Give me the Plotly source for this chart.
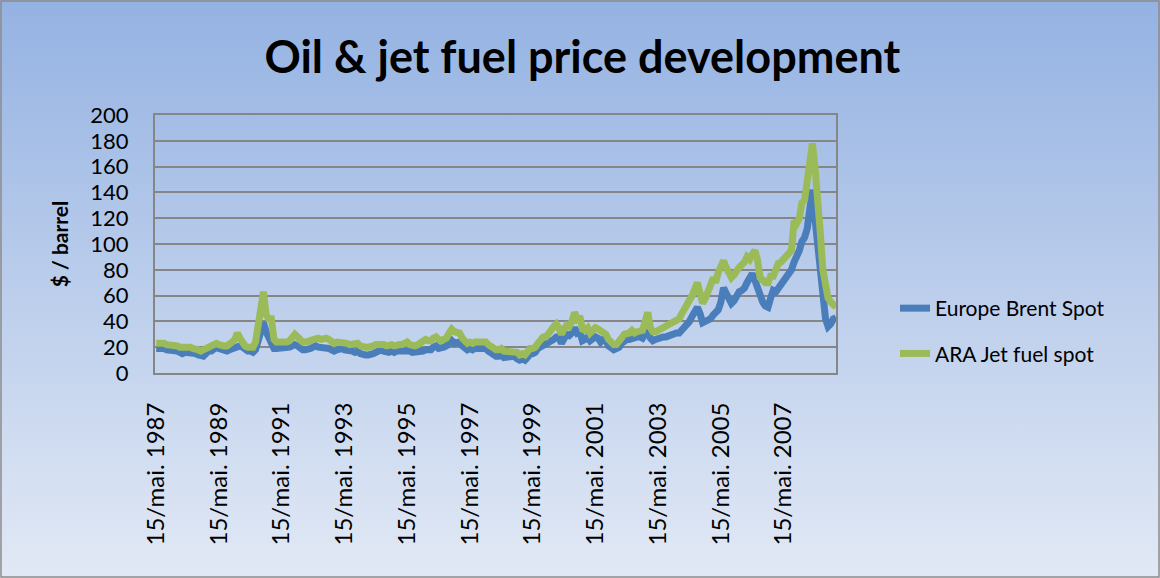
import base64
import pandas as pd
import plotly.graph_objs as go

# monthly values, May 1987 - Jan 2009 ($ / barrel)
brent = (
    [19, 19, 20, 19, 18, 18, 18, 17]                          # 1987
    + [17, 16, 15, 16, 16, 16, 15, 15, 14, 13, 13, 15]        # 1988
    + [17, 17, 19, 20, 19, 18, 18, 17, 18, 19, 19, 21]        # 1989
    + [21, 20, 18, 17, 17, 16, 18, 27, 35, 39, 32, 27]        # 1990
    + [24, 19, 19, 19, 19, 19, 19, 20, 21, 22, 21, 19]        # 1991
    + [18, 18, 18, 19, 20, 21, 20, 20, 20, 20, 19, 18]        # 1992
    + [17, 18, 19, 19, 18, 18, 17, 17, 16, 17, 15, 14]        # 1993
    + [14, 14, 14, 15, 16, 17, 18, 17, 16, 16, 17, 16]        # 1994
    + [17, 17, 17, 18, 18, 17, 16, 16, 17, 17, 17, 18]        # 1995
    + [18, 18, 20, 21, 19, 19, 20, 21, 24, 25, 23, 24]        # 1996
    + [24, 21, 19, 18, 19, 18, 19, 19, 19, 20, 19, 17]        # 1997
    + [15, 14, 13, 13, 14, 12, 12, 12, 13, 13, 11, 10]        # 1998
    + [11, 10, 12, 15, 15, 16, 19, 20, 22, 22, 24, 25]        # 1999
    + [26, 28, 28, 23, 28, 30, 29, 31, 35, 31, 32, 25]        # 2000
    + [26, 28, 25, 26, 28, 27, 24, 26, 25, 21, 19, 18]        # 2001
    + [19, 20, 23, 25, 26, 26, 27, 27, 28, 28, 27, 30]        # 2002
    + [33, 27, 25, 26, 27, 28, 28, 28, 29, 30, 30, 31]        # 2003
    + [31, 33, 36, 38, 40, 44, 48, 51, 46, 39, 40, 41]        # 2004
    + [42, 45, 47, 49, 55, 66, 62, 58, 54, 56, 61, 63]        # 2005
    + [64, 66, 70, 74, 77, 72, 66, 59, 55, 52, 51, 58]        # 2006
    + [64, 63, 66, 68, 72, 74, 77, 80, 86, 90, 95, 102]       # 2007
    + [105, 112, 126, 142, 120, 100, 75, 55, 42, 36, 38, 42]  # 2008
    + [43]                                                    # 2009
)

jet_fuel = (
    [23, 23, 24, 23, 22, 22, 22, 21]                          # 1987
    + [21, 20, 20, 20, 21, 20, 19, 19, 18, 17, 18, 20]        # 1988
    + [21, 21, 22, 23, 22, 21, 21, 21, 22, 24, 26, 31]        # 1989
    + [27, 23, 21, 20, 20, 20, 24, 40, 58, 63, 45, 42]        # 1990
    + [42, 26, 24, 24, 23, 23, 24, 25, 27, 30, 28, 25]        # 1991
    + [24, 24, 24, 25, 26, 27, 27, 26, 27, 27, 26, 24]        # 1992
    + [23, 24, 24, 24, 24, 23, 22, 22, 22, 23, 21, 20]        # 1993
    + [20, 20, 20, 21, 22, 22, 23, 22, 21, 22, 22, 21]        # 1994
    + [22, 22, 22, 23, 24, 22, 21, 21, 22, 23, 24, 26]        # 1995
    + [25, 25, 27, 28, 26, 25, 26, 27, 31, 34, 32, 32]        # 1996
    + [31, 27, 25, 23, 24, 23, 24, 24, 24, 25, 24, 22]        # 1997
    + [20, 19, 18, 18, 19, 17, 17, 16, 17, 17, 16, 14]        # 1998
    + [15, 14, 17, 19, 19, 20, 23, 25, 28, 28, 32, 33]        # 1999
    + [36, 38, 35, 30, 34, 37, 36, 40, 47, 42, 44, 34]        # 2000
    + [33, 35, 31, 33, 35, 34, 33, 32, 30, 26, 23, 22]        # 2001
    + [22, 24, 27, 30, 30, 31, 33, 31, 32, 33, 33, 40]        # 2002
    + [47, 35, 32, 32, 33, 34, 35, 37, 38, 39, 40, 41]        # 2003
    + [42, 46, 49, 52, 55, 60, 65, 70, 62, 54, 58, 62]        # 2004
    + [68, 74, 70, 78, 82, 87, 82, 77, 74, 76, 80, 82]        # 2005
    + [84, 86, 90, 88, 92, 95, 88, 74, 72, 70, 70, 75]        # 2006
    + [75, 80, 85, 86, 88, 90, 93, 95, 118, 116, 120, 132]    # 2007
    + [134, 152, 170, 178, 160, 140, 110, 80, 66, 58, 55, 52]  # 2008
    + [51]                                                    # 2009
)

dates = pd.date_range("1987-05-01", periods=len(brent), freq="MS") + pd.Timedelta(days=14)

tick_dates = [f"{y}-05-15" for y in range(1987, 2009, 2)]
tick_labels = [f"15/mai. {y}" for y in range(1987, 2009, 2)]

font = "Lato, 'Open Sans', sans-serif"

# excel style blue gradient behind the chart
svg = ('<svg xmlns="http://www.w3.org/2000/svg" width="1160" height="578" preserveAspectRatio="none">'
       '<defs><linearGradient id="g" x1="0" y1="0" x2="0" y2="1">'
       '<stop offset="0" stop-color="#94b2e2"/><stop offset="1" stop-color="#e2e9f5"/>'
       '</linearGradient></defs><rect width="1160" height="578" fill="url(#g)"/></svg>')
bg = "data:image/svg+xml;base64," + base64.b64encode(svg.encode()).decode()

l, r, t, b = 155, 324, 115, 205
pw, ph = 1160 - l - r, 578 - t - b

data = [
    go.Scatter(x=dates, y=brent, mode="lines", name="Europe Brent Spot",
               line=dict(color="#4a7ebb", width=7), legendgroup="a"),
    go.Scatter(x=dates, y=jet_fuel, mode="lines", name="ARA Jet fuel spot",
               line=dict(color="#9bbb59", width=7), legendgroup="b"),
]

layout = go.Layout(
    width=1160, height=578,
    margin=dict(l=l, r=r, t=t, b=b),
    paper_bgcolor="#c4d4ee",
    plot_bgcolor="white",
    font=dict(family=font, color="black", size=21),
    title=dict(text="<b>Oil & jet fuel price development</b>", x=0.502, xref="container",
               y=1 - 57 / 578, yref="container", xanchor="center", yanchor="middle",
               font=dict(family=font, size=45, color="black")),
    xaxis=dict(type="date", range=[dates[0] - pd.Timedelta(days=14), dates[-1]],
               tickvals=tick_dates, ticktext=tick_labels, tickangle=-90,
               showgrid=False, showline=True, linecolor="#868686", linewidth=2,
               mirror=True, ticks="", ticklabelstandoff=18,
               tickfont=dict(size=24)),
    yaxis=dict(range=[0, 200], dtick=20, showgrid=True, gridcolor="#868686", gridwidth=2,
               showline=True, linecolor="#868686", linewidth=2, mirror=True,
               zeroline=False, ticks="", ticklabelstandoff=20, tickfont=dict(size=22),
               title=dict(text="<b>$ / barrel</b>", standoff=16, font=dict(size=21))),
    legend=dict(x=(895 - l) / pw, y=(578 - b - 288) / ph, xanchor="left", yanchor="top",
                bgcolor="rgba(0,0,0,0)", font=dict(size=21), tracegroupgap=15),
    images=[dict(source=bg, xref="paper", yref="paper", x=-l / pw, y=1 + t / ph,
                 sizex=1160 / pw, sizey=578 / ph, xanchor="left", yanchor="top",
                 sizing="stretch", layer="below")],
    shapes=[dict(type="rect", xref="paper", yref="paper",
                 x0=(-l + 1) / pw, x1=(1160 - l - 1) / pw,
                 y0=(-b + 1) / ph, y1=(578 - b - 1) / ph,
                 line=dict(color="#8c8c8c", width=1.5), layer="below")],
)

fig = go.Figure(data=data, layout=layout)
fig.write_html("out.html", config={"displayModeBar": False},
               post_script="document.body.style.margin='0';")
